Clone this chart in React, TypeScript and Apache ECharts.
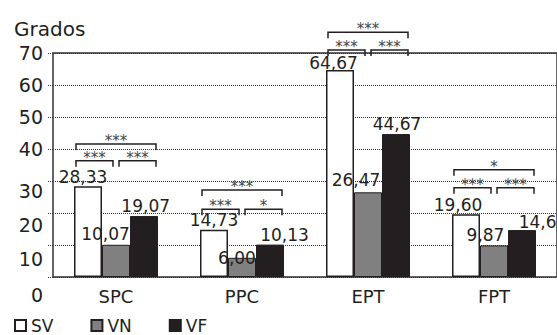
import React, { useEffect, useRef } from "react";
import * as echarts from "echarts";

const categories = ["SPC", "PPC", "EPT", "FPT"];
const seriesNames = ["SV", "VN", "VF"];
const svValues = [28.33, 14.73, 64.67, 19.6];
const vnValues = [10.07, 6.0, 26.47, 9.87];
const vfValues = [19.07, 10.13, 44.67, 14.67];
const yTicks = [0, 10, 20, 30, 40, 50, 60, 70];
const topBracketY = [41.6, 27.2, 76.5, 33.5];
const topBracketLabel = ["***", "***", "***", "*"];
const lowBracketY = [36.3, 21.2, 70.9, 27.9];
const lowLeftLabel = ["***", "***", "***", "***"];
const lowRightLabel = ["***", "*", "***", "***"];

const FONT = "DejaVu Sans";
const INK = "#231f20";

export default function App() {
  const ref = useRef<HTMLDivElement>(null);
  useEffect(() => {
    if (!ref.current) return;
    const chart = echarts.init(ref.current, null, { renderer: "svg" });

    const labelOffsets: number[][][] = [
      [[-5, 0], [0, 0], [-6.5, 2], [-8, 0]],
      [[-10.5, -1.5], [-5, 10], [-12, -3], [-8.5, -1]],
      [[1.7, 0], [14.5, 0], [1, -1], [21, 1]],
    ];
    const styles = [
      { color: "#ffffff", borderColor: INK, borderWidth: 1.5 },
      { color: "#808081", borderColor: INK, borderWidth: 1 },
      { color: INK, borderColor: INK, borderWidth: 1 },
    ];
    const allValues = [svValues, vnValues, vfValues];

    const yShift: Record<string, number> = { "0": 36, "10": 27, "20": 24, "30": 19 };
    const rich: Record<string, any> = {};
    yTicks.forEach((t) => {
      rich["s" + t] = {
        fontSize: 19,
        fontFamily: FONT,
        color: INK,
        padding: [yShift[String(t)] || 0, 0, 0, 0],
      };
    });

    const barSeries = seriesNames.map((name, si) => ({
      name,
      type: "bar",
      barWidth: 28,
      barGap: "0%",
      itemStyle: styles[si],
      label: {
        show: true,
        position: "top",
        distance: 1,
        fontSize: 17,
        fontFamily: FONT,
        color: INK,
        formatter: (p: any) => Number(p.value).toFixed(2).replace(".", ","),
      },
      data: allValues[si].map((v, ci) => ({
        value: v,
        label: { offset: labelOffsets[si][ci] },
      })),
    }));

    const bracketSeries = {
      type: "custom",
      name: "brackets",
      z: 10,
      clip: false,
      encode: { x: 0, y: [1, 2] },
      data: categories.map((_, i) => [i, topBracketY[i], lowBracketY[i]]),
      renderItem: (params: any, api: any) => {
        const i = api.value(0);
        const [cx, yTop] = api.coord([i, api.value(1)]);
        const yLow = api.coord([i, api.value(2)])[1];
        const bracket = (x1: number, x2: number, y: number, text: string) => [
          {
            type: "polyline",
            shape: { points: [[x1, y + 6], [x1, y], [x2, y], [x2, y + 6]] },
            style: { fill: "none", stroke: INK, lineWidth: 1.5 },
          },
          {
            type: "text",
            x: (x1 + x2) / 2,
            y: y - 3,
            style: {
              text,
              fill: "#444",
              font: `15px "${FONT}"`,
              align: "center",
              verticalAlign: "middle",
            },
          },
        ];
        return {
          type: "group",
          children: [
            ...bracket(cx - 40, cx + 40, yTop, topBracketLabel[i]),
            ...bracket(cx - 40, cx - 3, yLow, lowLeftLabel[i]),
            ...bracket(cx + 3, cx + 40, yLow, lowRightLabel[i]),
          ],
        };
      },
    };

    chart.setOption({
      animation: false,
      backgroundColor: "#ffffff",
      title: {
        text: "Grados",
        left: 9,
        top: 14,
        textStyle: { fontSize: 20, fontWeight: "normal", fontFamily: FONT, color: INK },
      },
      legend: {
        data: seriesNames,
        left: 9,
        top: 312,
        itemWidth: 11,
        itemHeight: 11,
        itemGap: 37,
        icon: "rect",
        textStyle: { fontSize: 17, fontFamily: FONT, color: INK },
      },
      grid: {
        left: 53,
        top: 53,
        width: 512,
        height: 224,
        show: true,
        borderColor: "#333333",
        borderWidth: 1.5,
        backgroundColor: "transparent",
      },
      xAxis: {
        type: "category",
        data: categories,
        axisLine: { show: false },
        axisTick: { show: false },
        axisLabel: { fontSize: 18, fontFamily: FONT, color: INK, margin: 10 },
      },
      yAxis: {
        type: "value",
        min: 0,
        max: 70,
        interval: 10,
        axisLine: { show: false },
        axisTick: { show: true, length: 5, lineStyle: { type: "dotted", color: "#333" } },
        splitLine: { show: true, lineStyle: { type: "dotted", color: "#333", width: 1 } },
        axisLabel: {
          margin: 10,
          formatter: (v: number) => `{s${v}|${v}}`,
          rich,
        },
      },
      series: [...barSeries, bracketSeries],
    });
    return () => chart.dispose();
  }, []);
  return (
    <div
      ref={ref}
      style={{ position: "fixed", left: 0, top: 0, width: 557, height: 335, background: "#fff" }}
    />
  );
}
